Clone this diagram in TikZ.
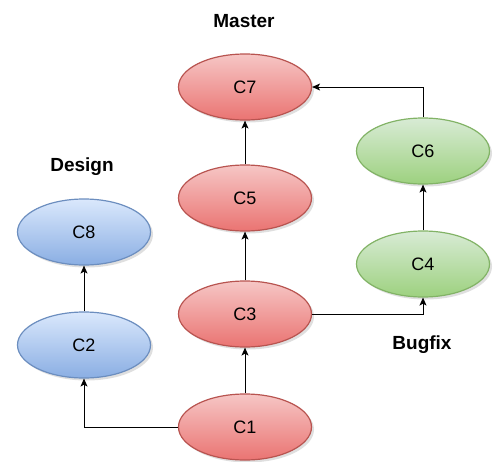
\documentclass[tikz,border=0pt]{standalone}
\usepackage{fontspec}
\setmainfont{Liberation Sans}
\usetikzlibrary{arrows.meta,shadows,shapes.geometric}

\definecolor{redtop}{HTML}{F6C6C5}
\definecolor{redbot}{HTML}{EA7472}
\definecolor{redline}{HTML}{B85450}
\definecolor{greentop}{HTML}{D8EBD5}
\definecolor{greenbot}{HTML}{9DD17F}
\definecolor{greenline}{HTML}{82B366}
\definecolor{bluetop}{HTML}{DAE8FC}
\definecolor{bluebot}{HTML}{8AAEE3}
\definecolor{blueline}{HTML}{6C8EBF}

\begin{document}
\begin{tikzpicture}[x=1pt,y=-1pt,
    commit/.style={ellipse,draw=#1line,line width=1.2pt,
        top color=#1top,bottom color=#1bot,
        minimum width=133pt,minimum height=66pt,inner sep=0pt,
        font=\fontsize{18}{20}\selectfont,
        drop shadow={shadow xshift=2.5pt,shadow yshift=-2.5pt,fill=black!25}},
    branch/.style={font=\fontsize{19}{21}\selectfont\bfseries},
    link/.style={-{Stealth[length=8pt,width=7pt,inset=2pt]},line width=0.9pt}]
    \useasboundingbox (0,0) rectangle (498,461);
        \foreach \n/\x/\c in{
        C1/{(245,427)}/red,
        C3/{(245,314)}/red,
        C5/{(245,198)}/red,
        C7/{(245,87)}/red,
        C4/{(423,264)}/green,
        C6/{(423,151)}/green,
        C2/{(84,345)}/blue,
        C8/{(84,232)}/blue
        }
        {
            \node[commit/.expanded=\c] (\n) at \x {\n};
        }
        \node[branch] (master) at (244,21) {Master};
        \node[branch] (design) at (82,167) {Design};
        \node[branch] (bugfix) at (422,345) {Bugfix};
        \draw[link] (C1) -- (C3);
        \draw[link] (C3) -- (C5);
        \draw[link] (C5) -- (C7);
        \draw[link] (C2) -- (C8);
        \draw[link] (C4) -- (C6);
        \draw[link] (C1.west) -| (C2.south);
        \draw[link] (C3.east) -| (C4.south);
        \draw[link] (C6.north) |- (C7.east);
    \end{tikzpicture}
\end{document}
